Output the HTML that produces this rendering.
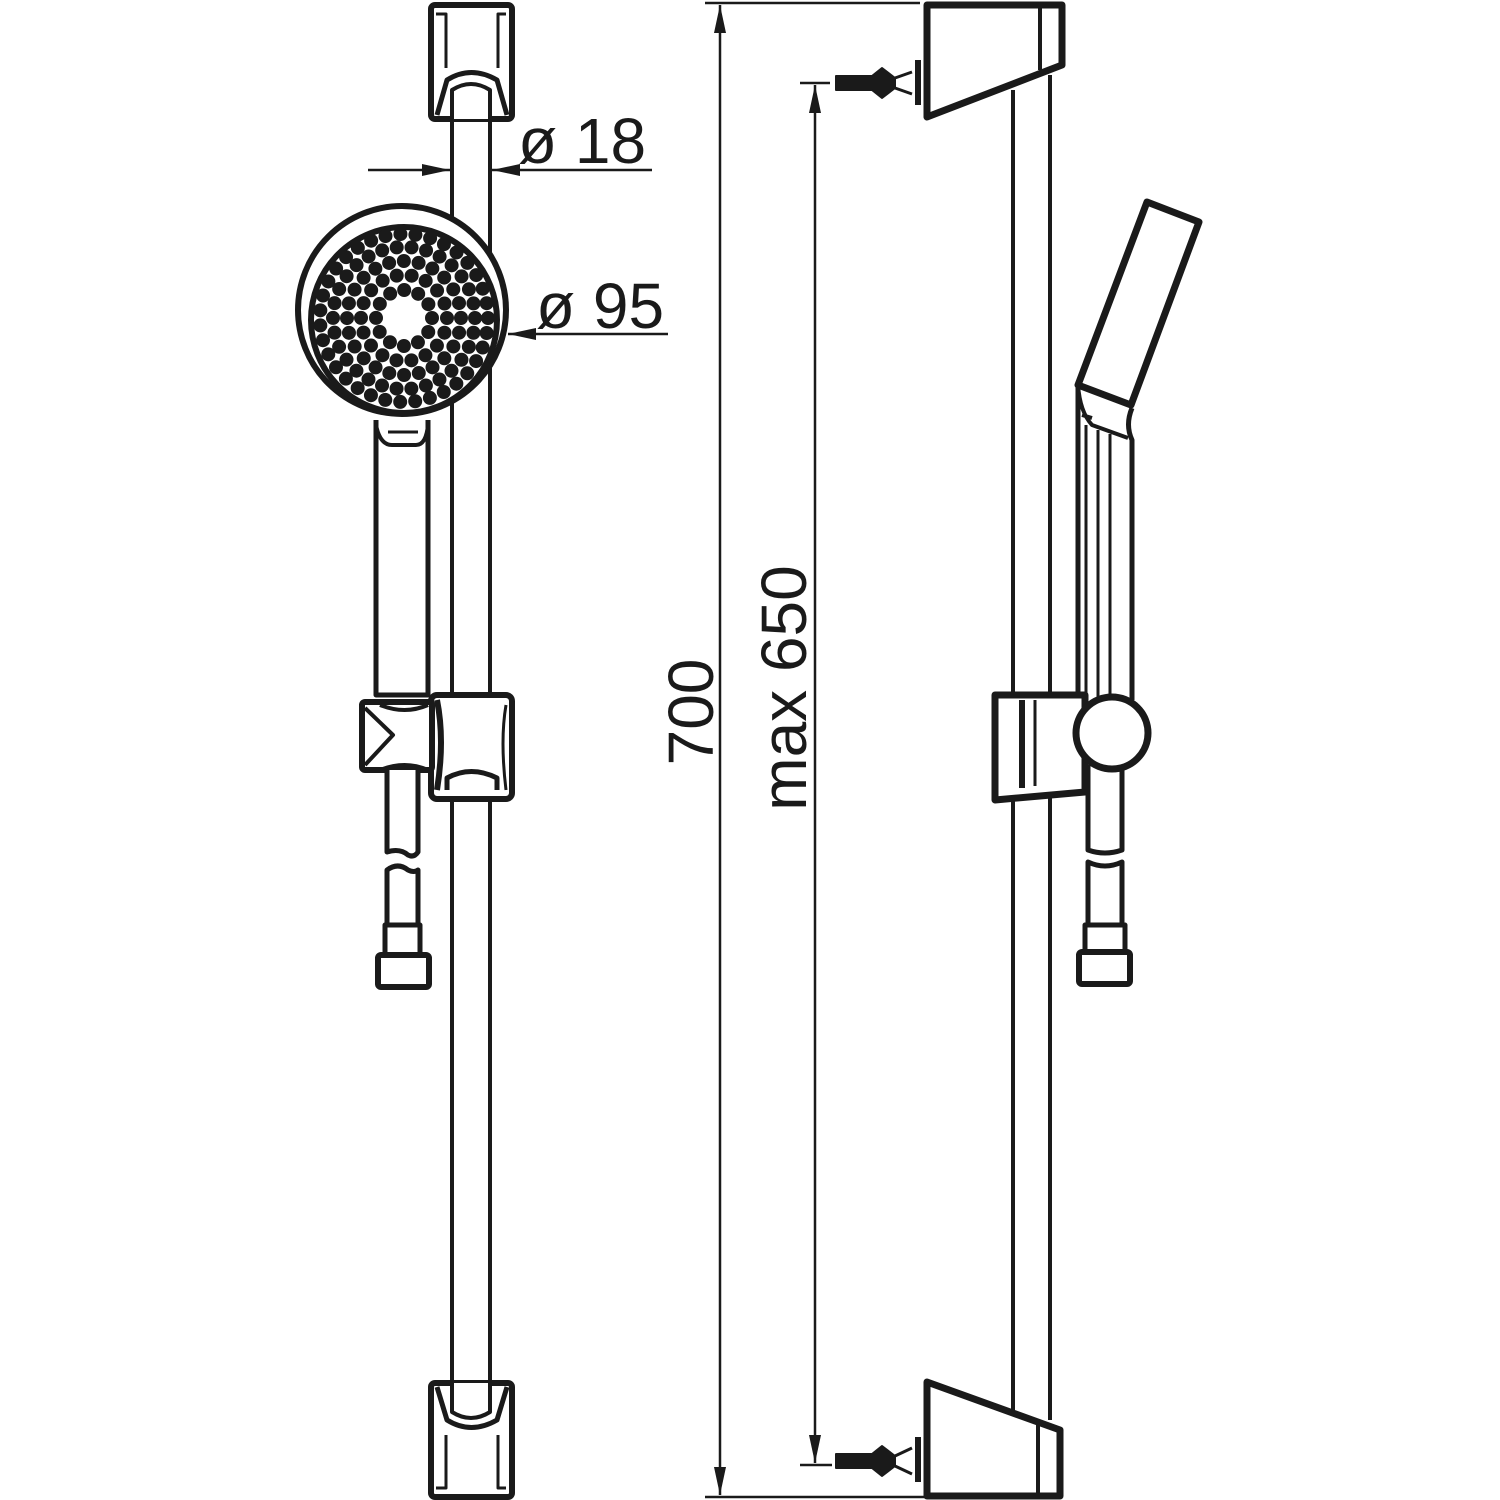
<!DOCTYPE html>
<html><head><style>html,body{margin:0;padding:0;background:#fff;overflow:hidden}svg{display:block}</style></head>
<body>
<svg width="1500" height="1500" viewBox="0 0 1500 1500" xmlns="http://www.w3.org/2000/svg" fill="none" stroke="#1a1a1a" stroke-linejoin="round">
<defs>
<marker id="ar" viewBox="0 0 10 10" refX="10" refY="5" markerWidth="28" markerHeight="12" markerUnits="userSpaceOnUse" orient="auto" preserveAspectRatio="none"><path d="M0,0 L10,5 L0,10z" fill="#1a1a1a" stroke="none"/></marker>
</defs>
<!-- LEFT VIEW -->
<g stroke-width="4">
<line x1="452" y1="80" x2="452" y2="720"/><line x1="490" y1="80" x2="490" y2="720"/>
<line x1="452" y1="780" x2="452" y2="1420"/><line x1="490" y1="780" x2="490" y2="1420"/>
</g>
<!-- top bracket -->
<rect x="431" y="5" width="81" height="114" rx="4" stroke-width="6" fill="#fff"/>
<path d="M436,14 L446,14 L446,68 M506,14 L498,14 L498,68" stroke-width="3"/>
<path d="M437,115 L447,80 Q471,65 497,80 L507,115" stroke-width="5"/>
<path d="M452,119 L452,90 Q471,78 490,90 L490,119" stroke-width="4" fill="#fff"/>
<!-- bottom bracket -->
<rect x="431" y="1383" width="81" height="114" rx="4" stroke-width="6" fill="#fff"/>
<path d="M437,1387 L447,1420 Q471,1435 497,1420 L507,1387" stroke-width="5"/>
<path d="M452,1383 L452,1412 Q471,1424 490,1412 L490,1383" stroke-width="4" fill="#fff"/>
<path d="M436,1488 L446,1488 L446,1435 M506,1488 L498,1488 L498,1435" stroke-width="3"/>
<!-- handle -->
<path d="M376,420 L376,695 L428,695 L428,420" stroke-width="5" fill="#fff"/>
<path d="M376,425 Q380,445 392,445 L416,445 Q426,445 428,425" stroke-width="4"/>
<line x1="388" y1="432" x2="418" y2="432" stroke-width="3"/>
<!-- shower head -->
<circle cx="402" cy="310" r="104" stroke-width="6" fill="#fff"/>
<circle cx="404" cy="320" r="93" stroke-width="6" fill="#fff"/>
<g stroke-width="14" stroke-linecap="round">
<circle cx="404" cy="318" r="28" stroke-dasharray="0 14.66"/>
<circle cx="404" cy="318" r="43" stroke-dasharray="0 15.0"/>
<circle cx="404" cy="318" r="57" stroke-dasharray="0 14.9"/>
<circle cx="404" cy="318" r="71" stroke-dasharray="0 14.87"/>
<circle cx="404" cy="318" r="84" stroke-dasharray="0 15.08"/>
</g>
<!-- slider left -->
<rect x="431" y="695" width="81" height="104" rx="6" stroke-width="6" fill="#fff"/>
<path d="M437,700 Q445,740 437,790" stroke-width="6"/>
<path d="M506,705 Q500,740 506,790" stroke-width="3"/>
<path d="M447,790 L447,778 Q471,765 497,778 L497,790" stroke-width="5"/>
<rect x="362" y="702" width="70" height="68" rx="3" stroke-width="6" fill="#fff"/>
<path d="M365,708 L393,735 L365,765" stroke-width="4"/>
<path d="M380,705 Q405,715 428,705 M380,770 Q405,760 428,770" stroke-width="4"/>
<!-- hose -->
<path d="M387,770 L387,852 Q400,848 408,855 Q414,858 418,852 L418,770" stroke-width="5" fill="#fff"/>
<path d="M387,942 L387,870 Q398,862 408,870 Q414,873 418,870 L418,942" stroke-width="5" fill="#fff"/>
<rect x="385" y="925" width="35" height="30" stroke-width="5" fill="#fff"/>
<rect x="378" y="955" width="51" height="32" rx="3" stroke-width="6" fill="#fff"/>
<!-- dims left -->
<g stroke-width="2.5">
<line x1="368" y1="170" x2="450" y2="170" marker-end="url(#ar)"/>
<line x1="652" y1="170" x2="492" y2="170" marker-end="url(#ar)"/>
<line x1="668" y1="334" x2="508" y2="334" marker-end="url(#ar)"/>
</g>
<g fill="#1a1a1a" stroke="none" font-family="Liberation Sans, sans-serif" font-size="64">
<text x="518" y="163">ø 18</text>
<text x="536" y="328">ø 95</text>
<text transform="translate(713,712) rotate(-90)" text-anchor="middle">700</text>
<text transform="translate(806,688) rotate(-90)" text-anchor="middle">max 650</text>
</g>
<!-- RIGHT VIEW dims -->
<g stroke-width="2.5">
<line x1="705" y1="3" x2="920" y2="3"/>
<line x1="705" y1="1497" x2="930" y2="1497"/>
<line x1="720" y1="750" x2="720" y2="5" marker-end="url(#ar)"/>
<line x1="720" y1="750" x2="720" y2="1495" marker-end="url(#ar)"/>
<line x1="800" y1="83" x2="830" y2="83"/>
<line x1="800" y1="1465" x2="832" y2="1465"/>
<line x1="815" y1="750" x2="815" y2="85" marker-end="url(#ar)"/>
<line x1="815" y1="750" x2="815" y2="1463" marker-end="url(#ar)"/>
</g>
<!-- right rail -->
<g stroke-width="4">
<line x1="1013" y1="90" x2="1013" y2="1410"/><line x1="1050" y1="75" x2="1050" y2="1420"/>
</g>
<!-- top bracket -->
<path d="M927,5 L1062,5 L1062,65 L927,117 Z" stroke-width="7" fill="#fff"/>
<line x1="1040" y1="8" x2="1040" y2="70" stroke-width="4"/>
<path d="M918,60 L918,105" stroke-width="6"/>
<path d="M895,78 L912,72 M895,88 L912,94" stroke-width="3"/>
<path d="M836,76 L872,76 L882,68 L895,78 L895,88 L882,98 L872,90 L836,90 Z" fill="#1a1a1a" stroke-width="2"/>
<!-- bottom bracket -->
<path d="M927,1382 L1060,1430 L1060,1496 L927,1496 Z" stroke-width="7" fill="#fff"/>
<line x1="1038" y1="1425" x2="1038" y2="1494" stroke-width="4"/>
<path d="M918,1437 L918,1482" stroke-width="6"/>
<path d="M895,1456 L912,1448 M895,1466 L912,1474" stroke-width="3"/>
<path d="M836,1454 L872,1454 L882,1446 L895,1456 L895,1466 L882,1476 L872,1468 L836,1468 Z" fill="#1a1a1a" stroke-width="2"/>
<!-- handset -->
<path d="M1147,202 L1199,222 L1131,405 L1078,385 Z" stroke-width="7" fill="#fff"/>
<path d="M1078,385 L1078,700 M1132,408 Q1125,425 1132,440 L1132,700" stroke-width="5"/>
<path d="M1078,385 Q1080,412 1092,425 L1128,438 M1082,415 L1092,418" stroke-width="4"/>
<path d="M1086,425 L1086,700 M1098,430 L1098,700 M1110,434 L1110,700" stroke-width="3"/>
<!-- slider right -->
<path d="M995,695 L1085,695 L1085,792 L995,800 Z" stroke-width="7" fill="#fff"/>
<line x1="1022" y1="700" x2="1022" y2="788" stroke-width="6"/>
<line x1="1035" y1="700" x2="1035" y2="786" stroke-width="3"/>
<!-- hose right -->
<path d="M1088,765 L1088,850 Q1105,856 1122,850 L1122,765" stroke-width="5" fill="#fff"/>
<circle cx="1112" cy="733" r="36" stroke-width="7" fill="#fff"/>
<path d="M1088,862 Q1105,870 1122,862 L1122,950 L1088,950 Z" stroke-width="5" fill="#fff"/>
<rect x="1085" y="925" width="40" height="28" stroke-width="5" fill="#fff"/>
<rect x="1079" y="952" width="51" height="32" rx="3" stroke-width="6" fill="#fff"/>
</svg>
</body></html>
